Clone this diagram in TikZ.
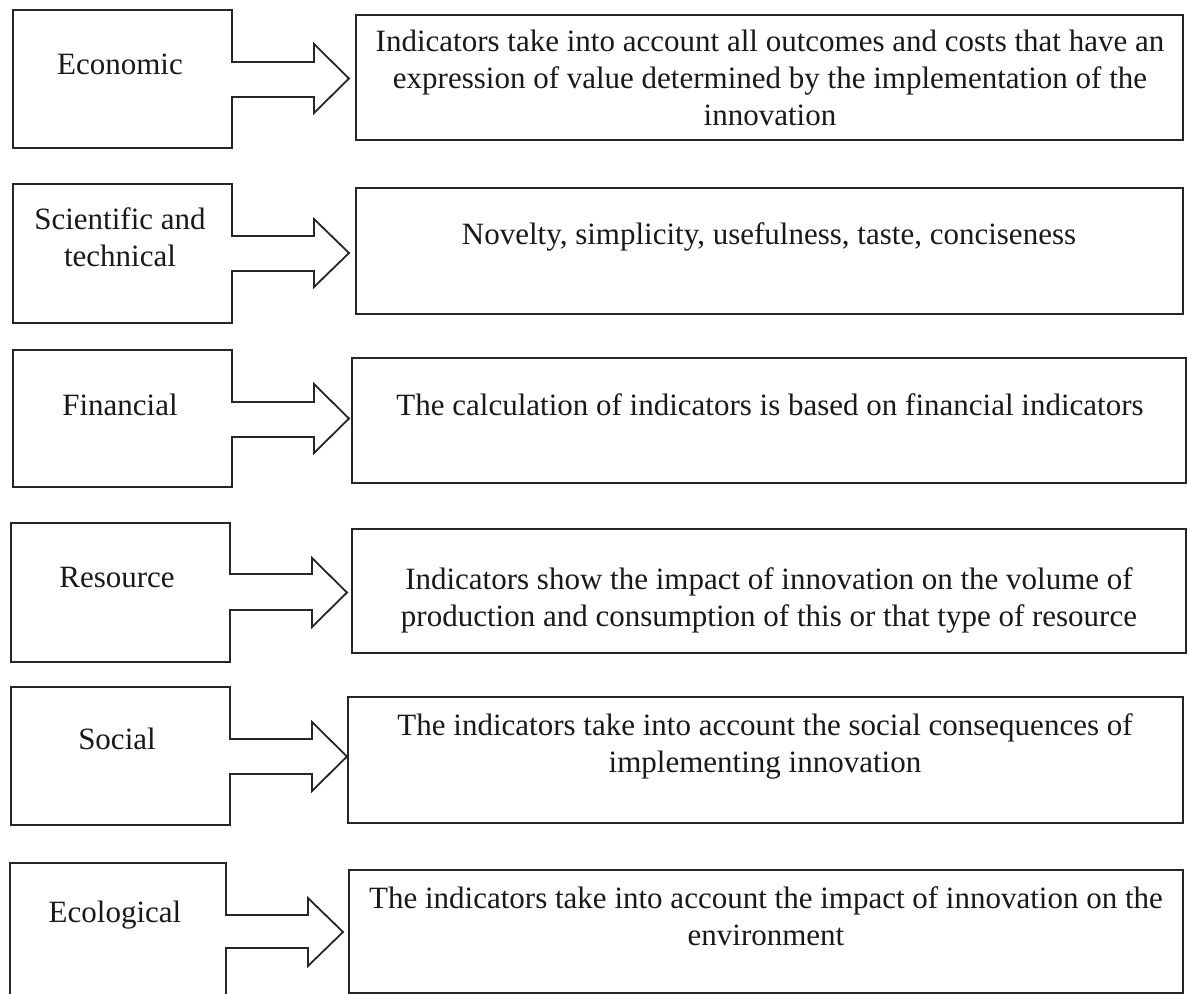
\documentclass[tikz,border=0pt]{standalone}
\usepackage{fontspec}
\setmainfont{Liberation Serif}
\tikzset{
  shapeline/.style={draw=black!85, line width=1.8pt, line join=miter},
  rbox/.style={draw=black!85, line width=1.8pt, inner sep=0pt},
  txt/.style={align=center, inner sep=0pt, font=\fontsize{31}{37}\selectfont, text=black!90},
}
\newcommand\lshape[9]{\draw[shapeline] (#1,#2) -- (#3,#2) -- (#3,#5) -- (#9,#5) -- (#9,#7) -- ({#9+35},{(#7+#8)/2}) -- (#9,#8) -- (#9,#6) -- (#3,#6) -- (#3,#4) -- (#1,#4) -- cycle;}
\newcommand\rboxat[5]{\node[rbox, minimum width={#4-#2}, minimum height={#5-#3}] (#1) at ({(#2+#4)/2},{(#3+#5)/2}) {};}
\begin{document}
\begin{tikzpicture}[x=1pt,y=-1pt]
\clip (0,0) rectangle (1187,994);
\fill[white] (0,0) rectangle (1187,994);
% left shapes
\lshape{13}{10}{232}{148}{62}{97}{44}{113}{314}
\lshape{13}{184}{232}{323}{236}{271}{219}{287}{314}
\lshape{13}{350}{232}{487}{402}{437}{384}{453}{314}
\lshape{11}{523}{230}{662}{574}{610}{558}{627}{312}
\lshape{11}{687}{230}{825}{739}{774}{722}{791}{312}
\lshape{10}{863}{226}{1010}{915}{948}{898}{966}{308}
% left labels
\node[txt] (l1) at (120,64) {Economic};
\node[txt] (l2) at (120,237) {Scientific and\\technical};
\node[txt] (l3) at (120,405) {Financial};
\node[txt] (l4) at (117,577) {Resource};
\node[txt] (l5) at (117,739) {Social};
\node[txt] (l6) at (115,915) {Ecological};
% right boxes
\rboxat{r1}{356}{15}{1183}{140}
\rboxat{r2}{356}{188}{1183}{314}
\rboxat{r3}{352}{358}{1186}{483}
\rboxat{r4}{352}{529}{1186}{653}
\rboxat{r5}{348}{697}{1183}{823}
\rboxat{r6}{349}{870}{1183}{993}
% right texts
\node[txt] (t1) at (770,78) {Indicators take into account all outcomes and costs that have an\\expression of value determined by the implementation of the\\innovation};
\node[txt] (t2) at (769,237) {Novelty, simplicity, usefulness, taste, conciseness};
\node[txt] (t3) at (770,405) {The calculation of indicators is based on financial indicators};
\node[txt] (t4) at (769,600) {Indicators show the impact of innovation on the volume of\\production and consumption of this or that type of resource};
\node[txt] (t5) at (765,746) {The indicators take into account the social consequences of\\implementing innovation};
\node[txt] (t6) at (766,916) {The indicators take into account the impact of innovation on the\\environment};
\end{tikzpicture}
\end{document}
